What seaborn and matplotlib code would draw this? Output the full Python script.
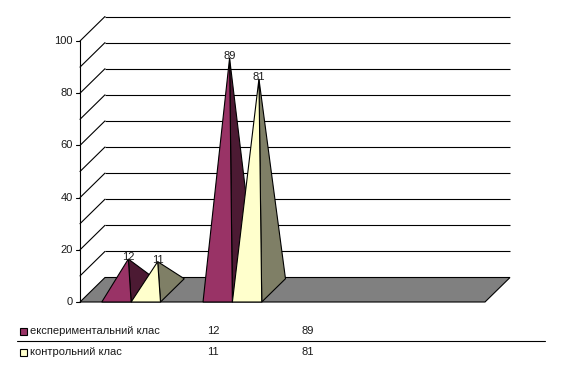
import numpy as np
import matplotlib
matplotlib.use("Agg")
import matplotlib.pyplot as plt
from matplotlib.patches import Polygon, Rectangle
import seaborn as sns

# ---- data ----
series_names = ["експериментальний клас", "контрольний клас"]
exp_values = [12, 89]
ctrl_values = [11, 81]
table_exp = ["12", "89"]
table_ctrl = ["11", "81"]
y_ticks = [0, 20, 40, 60, 80, 100]
grid_values = list(range(10, 101, 10))

front_colors = ["#993366", "#FFFFCC"]
side_colors = ["#4C1A33", "#7F7F66"]
floor_color = "#808080"
text_color = "#1a1a1a"

sns.set_style("white")
plt.rcParams["font.family"] = ["Liberation Sans", "DejaVu Sans"]

W, H = 563, 376
fig = plt.figure(figsize=(W / 100, H / 100), dpi=100)
ax = fig.add_axes([0, 0, 1, 1])
ax.set_axis_off()

# layout: 4 category slots across floor, value scale 0..100
n_slots = 4
px_per_cat = 101.25
px_per_val = 2.61
x0_px, y0_px = 80, 302  # front-left corner of floor (from top)
ax.set_xlim(-x0_px / px_per_cat, (W - x0_px) / px_per_cat)
ax.set_ylim(-(H - y0_px) / px_per_val, y0_px / px_per_val)

DX = 25 / px_per_cat
DY = 24.5 / px_per_val
lw = 0.8

# floor
floor = Polygon([(0, 0), (n_slots, 0), (n_slots + DX, DY), (DX, DY)],
                closed=True, facecolor=floor_color, edgecolor="black", lw=lw, zorder=2)
ax.add_patch(floor)

# back wall gridlines and left wall diagonals
for v in grid_values:
    ax.plot([DX, n_slots + DX], [v + DY, v + DY], color="black", lw=lw, zorder=1,
            solid_capstyle="butt")
    ax.plot([0, DX], [v, v + DY], color="black", lw=lw, zorder=1)

# y axis
ax.plot([0, 0], [0, 100], color="black", lw=lw, zorder=3)
tick_len = 4 / px_per_cat
for t in y_ticks:
    ax.plot([-tick_len, 0], [t, t], color="black", lw=lw, zorder=3)
    ax.text(-7 / px_per_cat, t, str(t), ha="right", va="center", fontsize=8,
            color=text_color)

# pyramids
bar_w = 0.29
pair_left = 0.215
d_back = 0.95
series = [exp_values, ctrl_values]
z = 5
for i in range(len(exp_values)):
    for j, vals in enumerate(series):
        v = vals[i]
        left = i + pair_left + j * bar_w
        right = left + bar_w
        ax_x = left + bar_w / 2 + d_back / 2 * DX
        ax_y = d_back / 2 * DY + v
        front = Polygon([(left, 0), (right, 0), (ax_x, ax_y)], closed=True,
                        facecolor=front_colors[j], edgecolor="black", lw=lw, zorder=z)
        side = Polygon([(right, 0), (right + d_back * DX, d_back * DY), (ax_x, ax_y)],
                       closed=True, facecolor=side_colors[j], edgecolor="black",
                       lw=lw, zorder=z)
        ax.add_patch(side)
        ax.add_patch(front)
        z += 1
        ax.text(ax_x, ax_y + 0.8, str(v), ha="center", va="center", fontsize=8,
                color=text_color, zorder=20)

# data table
def fx(x):
    return x / W


def fy(y):
    return 1 - y / H


row_y = [331, 352]
rows = [(series_names[0], table_exp), (series_names[1], table_ctrl)]
col_x = [207, 302]
for r, (name, vals) in enumerate(rows):
    fig.add_artist(Rectangle((fx(20), fy(row_y[r] + 3.5)), 6.5 / W, 6.5 / H,
                             transform=fig.transFigure, facecolor=front_colors[r],
                             edgecolor="black", lw=lw))
    fig.text(fx(30), fy(row_y[r]), name, ha="left", va="center", fontsize=8,
             color=text_color)
    for c, val in enumerate(vals):
        fig.text(fx(col_x[c]), fy(row_y[r]), val, ha="left", va="center", fontsize=8,
                 color=text_color)

fig.add_artist(plt.Line2D([fx(17), fx(545)], [fy(340.5), fy(340.5)],
                          transform=fig.transFigure, color="black", lw=lw))

fig.savefig("out.png", dpi=100)
